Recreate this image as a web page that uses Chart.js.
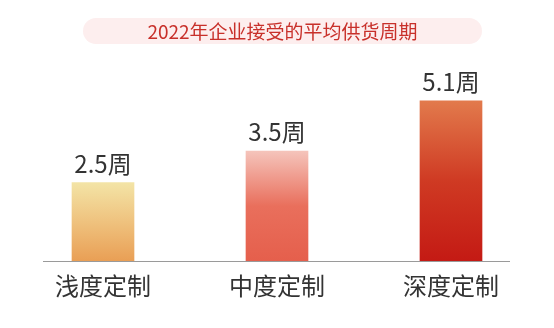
<!DOCTYPE html>
<html>
<head>
<meta charset="utf-8">
<script src="https://cdn.jsdelivr.net/npm/chart.js@4"></script>
<style>
    html, body { margin: 0; padding: 0; background: #fff; }
    #wrap { position: relative; width: 554px; height: 328px; }
    #title {
        position: absolute; left: 83px; top: 18px; width: 399px; height: 26px;
        border-radius: 13px; background: #fdeeee;
        color: #c8302a; font: 19px "Noto Sans CJK SC", sans-serif;
        line-height: 26px; text-align: center; letter-spacing: 0;
    }
    canvas { position: absolute; left: 0; top: 0; }
</style>
</head>
<body>
<div id="wrap">
    <canvas id="chart" width="554" height="328"></canvas>
    <div id="title">2022年企业接受的平均供货周期</div>
</div>
<script>
const chartTitle = '2022年企业接受的平均供货周期';
const categories = ['浅度定制', '中度定制', '深度定制'];
const weeks = [2.5, 3.5, 5.1];
const unit = '周';

// gradient stops per bar, top -> bottom
const barGradients = [
    ['#f3e4a6', '#efc27e', '#e99f55'],
    ['#f5c4bb', '#e96f5c', '#e55f4c'],
    ['#e27a4c', '#cf3a23', '#c41a14']
];

document.getElementById('title').textContent = chartTitle;

const FONT = '"Noto Sans CJK SC", "Noto Sans", sans-serif';

function barFill(ctx) {
    const chart = ctx.chart;
    const area = chart.chartArea;
    if (!area || ctx.type !== 'data') return barGradients[0][2];
    const y = chart.scales.y;
    const top = y.getPixelForValue(weeks[ctx.dataIndex]);
    const bottom = y.getPixelForValue(0);
    const stops = barGradients[ctx.dataIndex];
    const g = chart.ctx.createLinearGradient(0, top, 0, bottom);
    g.addColorStop(0, stops[0]);
    g.addColorStop(0.5, stops[1]);
    g.addColorStop(1, stops[2]);
    return g;
}

// baseline under the bars plus the value labels on top
const decorations = {
    id: 'decorations',
    afterDatasetsDraw(chart) {
        const { ctx, chartArea } = chart;
        ctx.save();
        ctx.strokeStyle = '#9a9a9a';
        ctx.lineWidth = 1;
        ctx.beginPath();
        ctx.moveTo(chartArea.left + 27, chartArea.bottom + 0.5);
        ctx.lineTo(chartArea.right - 28, chartArea.bottom + 0.5);
        ctx.stroke();

        ctx.fillStyle = '#333';
        ctx.font = '24px ' + FONT;
        ctx.textAlign = 'center';
        ctx.textBaseline = 'alphabetic';
        chart.getDatasetMeta(0).data.forEach((bar, i) => {
            ctx.fillText(weeks[i] + unit, bar.x, bar.y - 10);
        });
        ctx.restore();
    }
};

new Chart(document.getElementById('chart'), {
    type: 'bar',
    data: {
        labels: categories,
        datasets: [{
            data: weeks,
            backgroundColor: barFill,
            borderWidth: 0,
            barThickness: 62
        }]
    },
    options: {
        responsive: false,
        animation: false,
        layout: { padding: { left: 16, right: 16, top: 72.6 } },
        plugins: {
            legend: { display: false },
            tooltip: { enabled: false }
        },
        scales: {
            y: { display: false, min: 0, max: 6 },
            x: {
                grid: { display: false, drawTicks: false },
                border: { display: false },
                ticks: {
                    color: '#333',
                    padding: 10,
                    font: { size: 24, family: FONT }
                },
                afterFit(scale) { scale.height = 67; }
            }
        }
    },
    plugins: [decorations]
});
</script>
</body>
</html>
